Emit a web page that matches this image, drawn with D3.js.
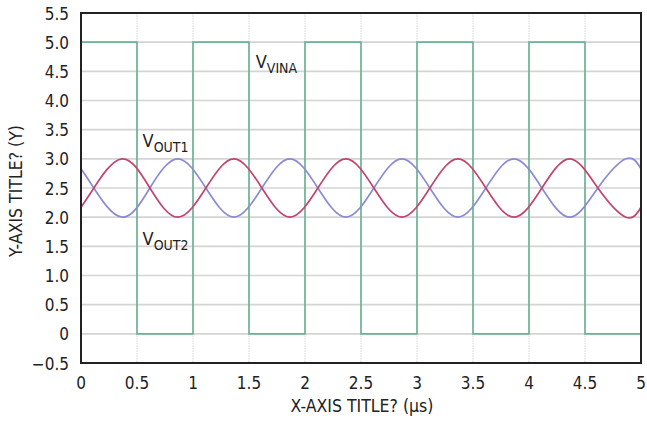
<!DOCTYPE html>
<html><head><meta charset="utf-8">
<script src="https://cdn.jsdelivr.net/npm/d3@7"></script>
<style>
html,body{margin:0;padding:0;background:#fff;}
text{font-family:"Liberation Sans Narrow","DejaVu Sans Condensed","Roboto",sans-serif;fill:#222;}
</style></head>
<body><svg id="c" width="647" height="422"></svg>
<script>
// ---- data ----
const xTicks = [0,0.5,1,1.5,2,2.5,3,3.5,4,4.5,5];
const xTickLabels = ["0","0.5","1","1.5","2","2.5","3","3.5","4","4.5","5"];
const yTicks = [-0.5,0,0.5,1,1.5,2,2.5,3,3.5,4,4.5,5,5.5];
const yTickLabels = ["\u22120.5","0","0.5","1.0","1.5","2.0","2.5","3.0","3.5","4.0","4.5","5.0","5.5"];
// square wave VINA (step points)
const vinaX = [0,0.5,0.5,1,1,1.5,1.5,2,2,2.5,2.5,3,3,3.5,3.5,4,4,4.5,4.5,5];
const vinaY = [5,5,0,0,5,5,0,0,5,5,0,0,5,5,0,0,5,5,0,0];
// VOUT1 (red) read at quarter-period points
const out1X = [0,0.115,0.365,0.615,0.865,1.115,1.365,1.615,1.865,2.115,2.365,2.615,2.865,3.115,3.365,3.615,3.865,4.115,4.365,4.615,4.865,5];
const out1Y = [2.17,2.5,3.0,2.5,2.0,2.5,3.0,2.5,2.0,2.5,3.0,2.5,2.0,2.5,3.0,2.5,2.0,2.5,3.0,2.5,2.0,2.17];
// VOUT2 (blue)
const out2X = out1X;
const out2Y = [2.83,2.5,2.0,2.5,3.0,2.5,2.0,2.5,3.0,2.5,2.0,2.5,3.0,2.5,2.0,2.5,3.0,2.5,2.0,2.5,3.0,2.83];

const svg = d3.select("#c");
const L=81, R=641, T=13, B=363;
const x = d3.scaleLinear().domain([0,5]).range([L,R]);
const y = d3.scaleLinear().domain([-0.5,5.5]).range([B,T]);

// grid
svg.append("g").selectAll("line").data(yTicks.slice(1,-1)).join("line")
  .attr("x1",L).attr("x2",R).attr("y1",d=>y(d)).attr("y2",d=>y(d))
  .attr("stroke","#d4d4d4").attr("stroke-width",1.6);
svg.append("g").selectAll("line").data(xTicks.slice(1,-1)).join("line")
  .attr("y1",T).attr("y2",B).attr("x1",d=>x(d)).attr("x2",d=>x(d))
  .attr("stroke","#dcdcdc").attr("stroke-width",1.2).attr("stroke-dasharray","1.5,1");

// series
const mk = (xs,ys)=>xs.map((v,i)=>[v,ys[i]]);
svg.append("path").datum(mk(vinaX,vinaY))
  .attr("d",d3.line().x(d=>x(d[0])).y(d=>y(d[1])))
  .attr("fill","none").attr("stroke","#6db394").attr("stroke-width",1.7);
svg.append("path").datum(mk(out2X,out2Y))
  .attr("d",d3.line().curve(d3.curveNatural).x(d=>x(d[0])).y(d=>y(d[1])))
  .attr("fill","none").attr("stroke","#8b8bd2").attr("stroke-width",1.7);
svg.append("path").datum(mk(out1X,out1Y))
  .attr("d",d3.line().curve(d3.curveNatural).x(d=>x(d[0])).y(d=>y(d[1])))
  .attr("fill","none").attr("stroke","#c2456c").attr("stroke-width",1.7);

// frame
svg.append("rect").attr("x",L).attr("y",T).attr("width",R-L).attr("height",B-T)
  .attr("fill","none").attr("stroke","#222").attr("stroke-width",2);

// axes labels
svg.append("g").selectAll("text").data(xTicks).join("text")
  .attr("x",d=>x(d)).attr("y",389).attr("text-anchor","middle")
  .attr("font-size",17).text((d,i)=>xTickLabels[i]);
svg.append("g").selectAll("text").data(yTicks).join("text")
  .attr("x",69).attr("y",d=>y(d)+6.5).attr("text-anchor","end")
  .attr("font-size",17).text((d,i)=>yTickLabels[i]);

svg.append("text").attr("x",362).attr("y",412).attr("text-anchor","middle")
  .attr("font-size",17.5).text("X-AXIS TITLE? (\u00b5s)");
svg.append("text").attr("transform","translate(22,191) rotate(-90)").attr("text-anchor","middle")
  .attr("font-size",17.5).text("Y-AXIS TITLE? (Y)");

// series labels
function lab(xp,yp,sub){
  const t=svg.append("text").attr("x",xp).attr("y",yp).attr("font-size",18);
  t.append("tspan").text("V");
  t.append("tspan").attr("font-size",14).attr("dy",5).text(sub);
}
lab(x(1.56),68,"VINA");
lab(x(0.55),147,"OUT1");
lab(x(0.55),245,"OUT2");
</script></body></html>
